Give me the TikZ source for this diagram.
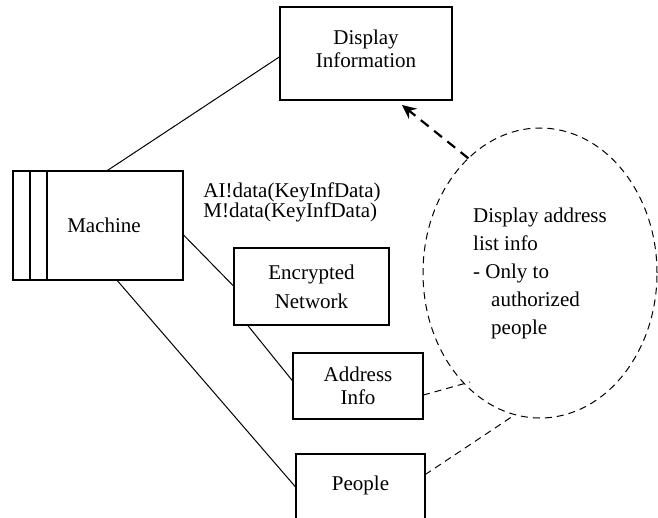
\documentclass[tikz,border=0pt]{standalone}
\usepackage{fontspec}
\setmainfont{Liberation Serif}
\usetikzlibrary{shapes.geometric,arrows.meta,calc}
\newcommand{\tightlines}{\lineskiplimit=-20pt\relax}
\begin{document}
\begin{tikzpicture}[x=0.5pt,y=-0.5pt,
  box/.style={draw, rectangle, inner sep=0pt, outer sep=0pt, line width=0.6pt, align=center,
    font=\fontsize{10.5}{11.5}\selectfont},
  conn/.style={line width=0.5pt},
  dconn/.style={line width=0.5pt, dash pattern=on 3.5pt off 2.5pt},
  arrowconn/.style={line width=1.1pt, dash pattern=on 5pt off 3.5pt, -{Stealth[length=7pt,width=6.5pt]}},
  lbl/.style={inner sep=0pt, align=left, font=\fontsize{10.5}{10}\selectfont\tightlines}]
\useasboundingbox (0,0) rectangle (658,518);
\clip (0,0) rectangle (658,518);

% boxes
\node[box, minimum width=86pt, minimum height=46.5pt] (disp) at (366,53.5)
  {Display\\Information\rule[-5pt]{0pt}{1pt}};
\node[box, minimum width=85pt, minimum height=54.5pt] (machine) at (98,225.5)
  {\hspace*{6pt}Machine};
\draw[line width=0.6pt] ([xshift=8.5pt]machine.north west) -- ([xshift=8.5pt]machine.south west);
\draw[line width=0.6pt] ([xshift=17pt]machine.north west) -- ([xshift=17pt]machine.south west);
\node[box, minimum width=77.5pt, minimum height=38.5pt, font=\fontsize{10.5}{14.5}\selectfont]
  (enc) at (311.5,286.5) {Encrypted\\Network};
\node[box, minimum width=65pt, minimum height=33pt] (addr) at (358,386) {Address\\Info};
\node[box, minimum width=64.5pt, text height=18pt, text depth=20pt, anchor=north]
  (people) at (360.5,454) {People};

% label
\node[lbl, anchor=west] (msg) at (203,202) {AI!data(KeyInfData)\\M!data(KeyInfData)};

% note ellipse
\node[draw, ellipse, dconn, minimum width=117pt, minimum height=145pt, inner sep=0pt, outer sep=0pt,
  align=left, font=\fontsize{10.5}{14}\selectfont] (note) at (540,273)
  {Display address\\list info\\- Only to\\\hspace*{9pt}authorized\\\hspace*{9pt}people};

\coordinate (tip) at (402,105);
\coordinate (addrend) at (470,382);

% connectors
\draw[conn] (machine.81) -- (disp.182);
\draw[conn] (machine.-6) -- (enc.west);
\draw[conn] (enc.211) -- (addr.176);
\draw[conn] (machine.-71) -- (people.176);

\draw[dconn] (addr.-8) -- (addrend);
\draw[dconn] (people.15) -- (note.260);
\draw[arrowconn] (note.122) -- (tip);
\end{tikzpicture}
\end{document}
